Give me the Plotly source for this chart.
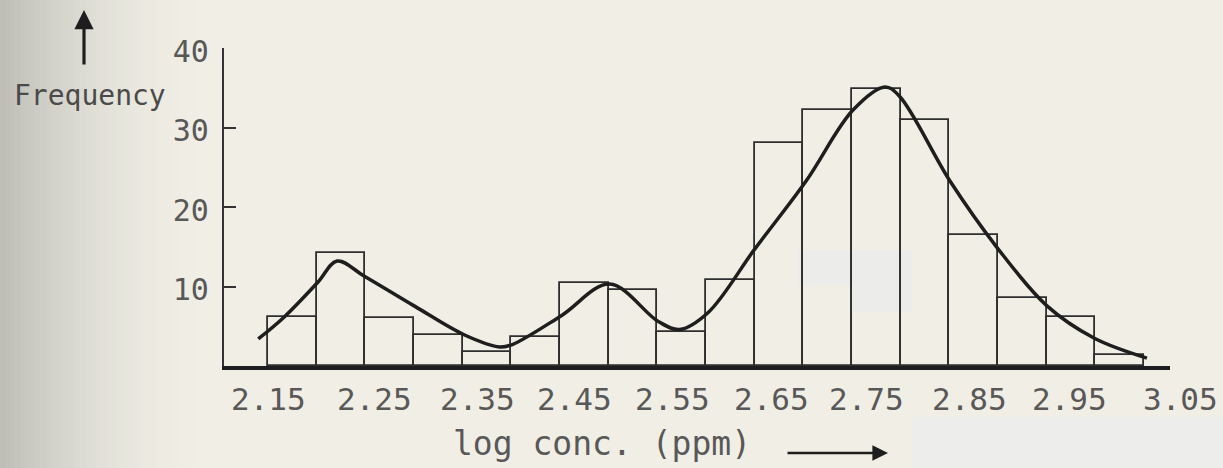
import plotly.graph_objects as go

# Frequency distribution of log concentration (ppm), class width 0.05
bin_centers = [2.175, 2.225, 2.275, 2.325, 2.375, 2.425, 2.475, 2.525, 2.575,
               2.625, 2.675, 2.725, 2.775, 2.825, 2.875, 2.925, 2.975, 3.025]
frequency = [6.2, 14.2, 6.1, 3.9, 1.8, 3.6, 10.5, 9.6, 4.3,
             10.8, 28.1, 32.2, 34.9, 30.9, 16.5, 8.5, 6.2, 1.4]

# Hand-fitted smooth curve through the histogram
curve_x = [2.140, 2.167, 2.201, 2.221, 2.249, 2.301, 2.352, 2.388, 2.401, 2.451,
           2.501, 2.551, 2.573, 2.602, 2.650, 2.703, 2.751, 2.784, 2.799, 2.851,
           2.899, 2.950, 2.999, 3.053]
curve_y = [3.4, 6.2, 10.5, 13.2, 11.3, 7.5, 3.9, 2.4, 2.7, 6.3,
           10.3, 5.6, 4.6, 6.7, 14.7, 23.3, 32.2, 35.1, 33.9, 23.2,
           14.9, 7.6, 3.5, 1.0]

x_tick_values = [2.15, 2.25, 2.35, 2.45, 2.55, 2.65, 2.75, 2.85, 2.95, 3.05]
x_tick_labels = ["2.15", "2.25", "2.35", "2.45", "2.55", "2.65", "2.75", "2.85", "2.95", "3.05"]
y_tick_values = [10, 20, 30, 40]

# typed labels sit a little right of their class boundaries (pixels)
label_shift = [0, 9, 15, 14, 15, 17, 14, 20, 23, 36]

W, H = 1223, 468
L, R, T, B = 224, 53, 48, 102
MONO = "DejaVu Sans Mono"
TEXT = "#585858"
INK = "#1e1e1e"
PAPER = "rgb(240,238,229)"

fig = go.Figure()

fig.add_trace(go.Bar(
    x=bin_centers, y=frequency, width=0.05,
    marker=dict(color="rgba(0,0,0,0)", line=dict(color="#2e2e2e", width=1.8)),
    hoverinfo="x+y", showlegend=False,
))

fig.add_trace(go.Scatter(
    x=curve_x, y=curve_y, mode="lines",
    line=dict(color=INK, width=3.5, shape="spline", smoothing=1.0),
    hoverinfo="skip", showlegend=False,
))

shapes = []
# scanner shading along the left edge of the page
n_strips = 44
for i in range(n_strips):
    t = i / (n_strips - 1)
    k = (1 - t) ** 2
    c = [int(round(a + (b - a) * k)) for a, b in zip((240, 238, 229), (190, 190, 182))]
    x0 = (i * 5 - L) / (W - L - R)
    x1 = ((i + 1) * 5 - L) / (W - L - R)
    shapes.append(dict(type="rect", xref="paper", yref="paper",
                       x0=x0, x1=x1, y0=-B / (H - T - B), y1=1 + T / (H - T - B),
                       fillcolor=f"rgb({c[0]},{c[1]},{c[2]})", line=dict(width=0),
                       layer="below"))


def px_rect(x0, x1, y0, y1, color):
    pw, ph = W - L - R, H - T - B
    return dict(type="rect", xref="paper", yref="paper",
                x0=(x0 - L) / pw, x1=(x1 - L) / pw,
                y0=1 - (y1 - T) / ph, y1=1 - (y0 - T) / ph,
                fillcolor=color, line=dict(width=0), layer="below")


# pale patches on the sheet
shapes.append(px_rect(798, 853, 250, 285, "rgb(236,236,234)"))
shapes.append(px_rect(853, 912, 250, 312, "rgb(236,236,234)"))
shapes.append(px_rect(912, 1223, 417, 468, "rgb(237,237,236)"))

annotations = []
for v, lab, s in zip(x_tick_values, x_tick_labels, label_shift):
    annotations.append(dict(x=v, y=0, xref="x", yref="paper", text=lab,
                            showarrow=False, xanchor="center", yanchor="middle",
                            xshift=s, yshift=-33,
                            font=dict(family=MONO, size=31, color=TEXT)))

annotations.append(dict(x=(602 - L) / (W - L - R), y=0, xref="paper", yref="paper",
                        text="log conc. (ppm)", showarrow=False,
                        xanchor="center", yanchor="middle", yshift=-77,
                        font=dict(family=MONO, size=33, color=TEXT)))
# arrow after the axis title
annotations.append(dict(x=(888 - L) / (W - L - R), y=0, xref="paper", yref="paper",
                        ax=-102, ay=0, yshift=-87, text="", showarrow=True,
                        arrowhead=2, arrowsize=1.2, arrowwidth=2.6, arrowcolor=INK))
# upward arrow above the ordinate title
annotations.append(dict(x=(84 - L) / (W - L - R), y=1 + (T - 10) / (H - T - B),
                        xref="paper", yref="paper", ax=0, ay=56, text="",
                        showarrow=True, arrowhead=2, arrowsize=1.2, arrowwidth=3.2,
                        arrowcolor=INK))
annotations.append(dict(x=(90 - L) / (W - L - R), y=1 - (95 - T) / (H - T - B),
                        xref="paper", yref="paper", text="Frequency", showarrow=False,
                        xanchor="center", yanchor="middle",
                        font=dict(family=MONO, size=28, color="#4a4a4a")))

fig.update_layout(
    width=W, height=H,
    margin=dict(l=L, r=R, t=T, b=B, pad=0),
    paper_bgcolor=PAPER, plot_bgcolor="rgba(0,0,0,0)",
    bargap=0, shapes=shapes, annotations=annotations,
    xaxis=dict(range=[2.1048, 3.0767], showgrid=False, zeroline=False,
               showline=True, linecolor=INK, linewidth=3.5,
               showticklabels=False, ticks="", fixedrange=True),
    yaxis=dict(range=[0, 40], showgrid=False, zeroline=False,
               showline=True, linecolor="#333333", linewidth=2.4,
               tickvals=y_tick_values, ticks="inside", ticklen=12,
               tickwidth=2, tickcolor="#333333", ticklabelstandoff=7,
               ticklabelshift=3,
               tickfont=dict(family=MONO, size=30, color=TEXT), fixedrange=True),
)

fig.write_html("out.html")
